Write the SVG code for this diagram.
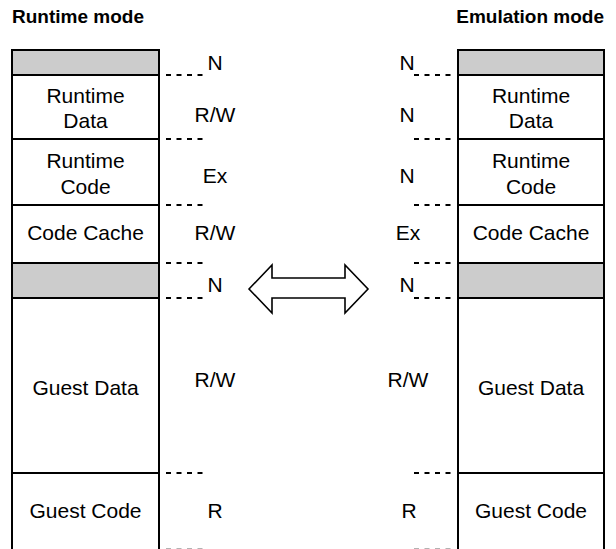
<svg xmlns="http://www.w3.org/2000/svg" width="616" height="549" viewBox="0 0 616 549">
<style>
text{font-family:"Liberation Sans",Arial,Helvetica,sans-serif;fill:#000}
.title{font-size:19px;font-weight:bold}
.box{font-size:21px;text-anchor:middle}
.lbl{font-size:21px;text-anchor:middle}
.blk{fill:#fff;stroke:#000;stroke-width:2}
.gray{fill:#ccc;stroke:#000;stroke-width:2}
.dash{stroke:#000;stroke-width:2;stroke-dasharray:5 5.5;fill:none}
.dashfade{stroke:#999;stroke-width:1.5;stroke-dasharray:5 5.5;fill:none}
.arrow{fill:#fff;stroke:#000;stroke-width:1.6;stroke-linejoin:miter}
</style>
<text class="title" x="12" y="23">Runtime mode</text>
<text class="title" x="604" y="23" text-anchor="end">Emulation mode</text>

<g id="left-reserved-top"><rect class="gray" x="12" y="50" width="147" height="25"/></g>
<g id="left-runtime-data"><rect class="blk" x="12" y="75" width="147" height="64"/><text class="box" x="85.5" y="103">Runtime</text><text class="box" x="85.5" y="128">Data</text></g>
<g id="left-runtime-code"><rect class="blk" x="12" y="139" width="147" height="66"/><text class="box" x="85.5" y="168">Runtime</text><text class="box" x="85.5" y="194">Code</text></g>
<g id="left-code-cache"><rect class="blk" x="12" y="205" width="147" height="58"/><text class="box" x="85.5" y="240">Code Cache</text></g>
<g id="left-reserved-mid"><rect class="gray" x="12" y="263" width="147" height="35"/></g>
<g id="left-guest-data"><rect class="blk" x="12" y="298" width="147" height="175"/><text class="box" x="85.5" y="395">Guest Data</text></g>
<g id="left-guest-code"><rect class="blk" x="12" y="473" width="147" height="85"/><text class="box" x="85.5" y="518">Guest Code</text></g>

<g id="right-reserved-top"><rect class="gray" x="458" y="50" width="146" height="25"/></g>
<g id="right-runtime-data"><rect class="blk" x="458" y="75" width="146" height="64"/><text class="box" x="531" y="103">Runtime</text><text class="box" x="531" y="128">Data</text></g>
<g id="right-runtime-code"><rect class="blk" x="458" y="139" width="146" height="66"/><text class="box" x="531" y="168">Runtime</text><text class="box" x="531" y="194">Code</text></g>
<g id="right-code-cache"><rect class="blk" x="458" y="205" width="146" height="58"/><text class="box" x="531" y="240">Code Cache</text></g>
<g id="right-reserved-mid"><rect class="gray" x="458" y="263" width="146" height="35"/></g>
<g id="right-guest-data"><rect class="blk" x="458" y="298" width="146" height="175"/><text class="box" x="531" y="395">Guest Data</text></g>
<g id="right-guest-code"><rect class="blk" x="458" y="473" width="146" height="85"/><text class="box" x="531" y="518">Guest Code</text></g>

<g id="boundaries">
<path class="dash" d="M166 75H203M166 139H203M166 205H203M166 263H203M166 298H203M166 473H203"/>
<path class="dashfade" d="M166 549H203"/>
<path class="dash" d="M414 75H451M414 139H451M414 205H451M414 263H451M414 298H451M414 473H451"/>
<path class="dashfade" d="M414 549H451"/>
</g>

<g id="left-labels">
<text class="lbl" x="215" y="70">N</text>
<text class="lbl" x="215" y="122">R/W</text>
<text class="lbl" x="215" y="183">Ex</text>
<text class="lbl" x="215" y="240">R/W</text>
<text class="lbl" x="215" y="292">N</text>
<text class="lbl" x="215" y="387">R/W</text>
<text class="lbl" x="215" y="518">R</text>
</g>
<g id="right-labels">
<text class="lbl" x="407" y="70">N</text>
<text class="lbl" x="407" y="122">N</text>
<text class="lbl" x="407" y="183">N</text>
<text class="lbl" x="408" y="240">Ex</text>
<text class="lbl" x="407" y="292">N</text>
<text class="lbl" x="408" y="387">R/W</text>
<text class="lbl" x="409" y="518">R</text>
</g>

<g id="connectors">
<polygon class="arrow" points="249,289 272,265 272,278 345,278 345,265 368,289 345,313 345,298 272,298 272,313"/>
</g>
</svg>
